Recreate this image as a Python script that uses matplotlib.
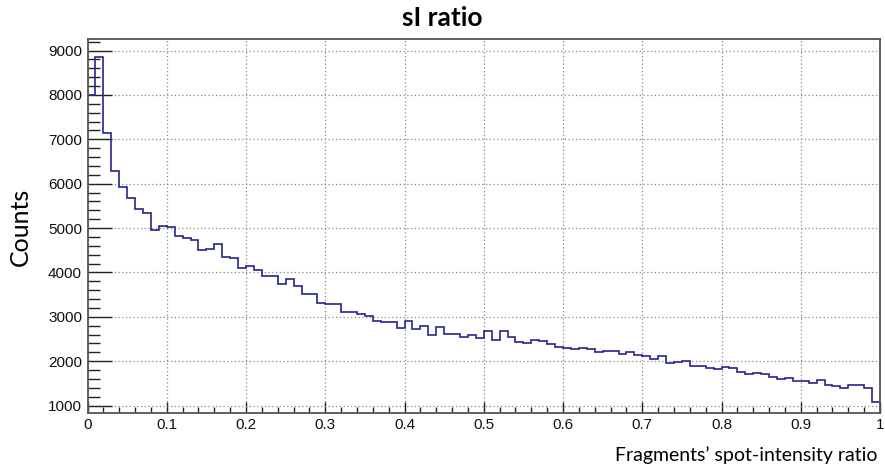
import numpy as np
import matplotlib
matplotlib.use("Agg")
import matplotlib.pyplot as plt
from matplotlib.ticker import MultipleLocator

# sI ratio histogram: 100 bins between 0 and 1
n_bins = 100
x_range = (0.0, 1.0)
counts = [
    7990, 8860, 7140, 6285, 5930, 5685, 5420, 5340, 4965, 5040,
    5020, 4815, 4780, 4735, 4510, 4535, 4632, 4350, 4325, 4100,
    4148, 4050, 3915, 3915, 3735, 3845, 3700, 3520, 3510, 3320,
    3285, 3280, 3120, 3115, 3072, 3025, 2910, 2895, 2890, 2753,
    2905, 2730, 2800, 2585, 2767, 2605, 2613, 2541, 2598, 2515,
    2673, 2470, 2673, 2541, 2430, 2400, 2485, 2445, 2380, 2330,
    2297, 2271, 2293, 2271, 2211, 2227, 2220, 2166, 2207, 2131,
    2113, 2043, 2125, 1957, 1980, 1995, 1890, 1895, 1850, 1830,
    1880, 1845, 1768, 1722, 1737, 1722, 1654, 1597, 1627, 1545,
    1548, 1508, 1584, 1470, 1450, 1400, 1460, 1465, 1397, 1090,
]
x_ticks = [0, 0.1, 0.2, 0.3, 0.4, 0.5, 0.6, 0.7, 0.8, 0.9, 1]
x_tick_labels = ["0", "0.1", "0.2", "0.3", "0.4", "0.5", "0.6", "0.7", "0.8", "0.9", "1"]
y_ticks = [1000, 2000, 3000, 4000, 5000, 6000, 7000, 8000, 9000]

edges = np.linspace(x_range[0], x_range[1], n_bins + 1)

fig = plt.figure(figsize=(8.85, 4.73), dpi=100)
ax = fig.add_axes([0.0989, 0.1279, 0.8955, 0.7896])

ax.stairs(counts, edges, baseline=None, color="#25258c", linewidth=1.2)

ax.set_xlim(*x_range)
ax.set_ylim(845, 9260)

ax.set_xticks(x_ticks)
ax.set_xticklabels(x_tick_labels)
ax.set_yticks(y_ticks)
ax.xaxis.set_minor_locator(MultipleLocator(0.02))
ax.yaxis.set_minor_locator(MultipleLocator(200))

for lab in ax.get_xticklabels() + ax.get_yticklabels():
    lab.set_fontfamily(["Liberation Sans", "DejaVu Sans"])
    lab.set_fontsize(11)
    lab.set_color("#111111")

ax.tick_params(axis="y", which="major", direction="in", length=17, width=1.0,
               color="#222222", pad=4)
ax.tick_params(axis="y", which="minor", direction="in", length=8.5, width=1.0,
               color="#222222")
ax.tick_params(axis="x", which="major", direction="in", length=8, width=1.0,
               color="#222222", pad=4)
ax.tick_params(axis="x", which="minor", direction="in", length=4, width=1.0,
               color="#222222")

ax.grid(True, which="major", color="#888888", linestyle=(0, (1, 2)), linewidth=0.9)
ax.set_axisbelow(True)

for side in ax.spines.values():
    side.set_color("#555555")
    side.set_linewidth(1.3)

fig.text(0.5, 0.963, "sI ratio", ha="center", va="center",
         family=["Lato", "DejaVu Sans"], fontweight="bold", fontsize=19)
fig.text(0.023, 0.52, "Counts", ha="center", va="center", rotation=90,
         family=["Lato", "DejaVu Sans"], fontsize=18)
fig.text(0.992, 0.038, "Fragments\u2019 spot-intensity ratio", ha="right", va="center",
         family=["Lato", "DejaVu Sans"], fontsize=14)

fig.savefig("out.png", dpi=100)
